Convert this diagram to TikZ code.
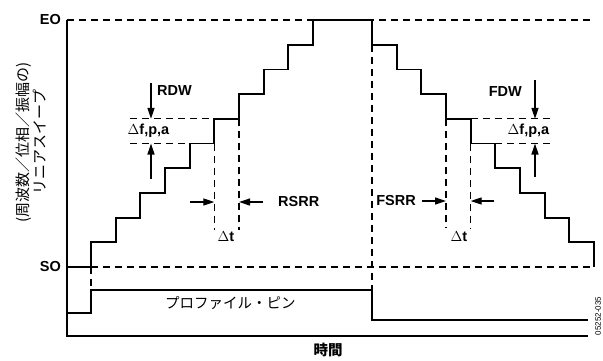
\documentclass[tikz,border=0pt]{standalone}
\usepackage{fontspec}
\setmainfont{Liberation Sans}
\newfontfamily\jp{Noto Sans CJK JP}
\usetikzlibrary{arrows.meta}
\begin{document}
\begin{tikzpicture}[x=1pt,y=-1pt,
  stair/.style={line width=1.8pt, line join=miter},
  dsh/.style={line width=1.3pt, dash pattern=on 7pt off 5pt},
  axisline/.style={line width=2.6pt},
  prof/.style={line width=1.6pt},
  arr/.style={line width=1.3pt, -{Triangle[length=11pt,width=7pt]}},
  lbl/.style={font=\fontsize{14.5}{16}\selectfont\bfseries, inner sep=0pt},
  jlbl/.style={font=\fontsize{14.5}{16}\selectfont\jp, inner sep=0pt}]
\useasboundingbox (0,0) rectangle (603,360);

% axes
\draw[axisline] (67,20) -- (67,336) -- (588,336);
% EO and SO lines
\draw[dsh] (67,20) -- (594,20);
\draw[stair] (67,267) -- (91,267);
\draw[dsh] (91,267) -- (594,267);

% staircase
\draw[stair] (91,267) -- (91,242.3) -- (115.67,242.3) -- (115.67,217.6) -- (140.33,217.6) -- (140.33,192.9) -- (165,192.9) -- (165,168.2) -- (189.67,168.2) -- (189.67,143.5) -- (214.33,143.5) -- (214.33,118.8) -- (239,118.8) -- (239,94.1) -- (263.67,94.1) -- (263.67,69.4) -- (288.33,69.4) -- (288.33,44.7) -- (313,44.7) -- (313,20) -- (372,20) -- (372,44.7) -- (396.67,44.7) -- (396.67,69.4) -- (421.33,69.4) -- (421.33,94.1) -- (446,94.1) -- (446,118.8) -- (470.67,118.8) -- (470.67,143.5) -- (495.33,143.5) -- (495.33,168.2) -- (520,168.2) -- (520,192.9) -- (544.67,192.9) -- (544.67,217.6) -- (569.33,217.6) -- (569.33,242.3) -- (594,242.3) -- (594,267);

% profile pin
\draw[prof] (67,313) -- (91,313) -- (91,290) -- (372,290) -- (372,320) -- (588,320);

% dashed guides
\draw[dsh] (91,267) -- (91,290);
\draw[dsh] (372,44.7) -- (372,290);
\draw[dsh] (214.33,143.5) -- (214.33,230);
\draw[dsh] (239,118.8) -- (239,230);
\draw[dsh] (446,118.8) -- (446,228);
\draw[dsh] (470.67,143.5) -- (470.67,228);
\draw[dsh] (130,118.8) -- (214.33,118.8);
\draw[dsh] (130,143.5) -- (189.67,143.5);
\draw[dsh] (470.67,118.8) -- (554,118.8);
\draw[dsh] (495.33,143.5) -- (554,143.5);

% arrow coordinates
\coordinate (rdwA) at (151,83);
\coordinate (rdwB) at (151,118.8);
\coordinate (rdwC) at (151,179);
\coordinate (rdwD) at (151,143.5);
\coordinate (rsA) at (190,202);
\coordinate (rsB) at (214.33,202);
\coordinate (rsC) at (263,202);
\coordinate (rsD) at (239,202);
\coordinate (fdwA) at (535,80);
\coordinate (fdwB) at (535,118.8);
\coordinate (fdwC) at (535,177);
\coordinate (fdwD) at (535,143.5);
\coordinate (fsA) at (422,201);
\coordinate (fsB) at (446,201);
\coordinate (fsC) at (494,201);
\coordinate (fsD) at (470.67,201);

\draw[arr] (rdwA) -- (rdwB);
\draw[arr] (rdwC) -- (rdwD);
\draw[arr] (rsA) -- (rsB);
\draw[arr] (rsC) -- (rsD);
\draw[arr] (fdwA) -- (fdwB);
\draw[arr] (fdwC) -- (fdwD);
\draw[arr] (fsA) -- (fsB);
\draw[arr] (fsC) -- (fsD);

% labels
\node[lbl, anchor=east] (eo) at (61,20) {EO};
\node[lbl, anchor=east] (so) at (61,267) {SO};
\node[lbl, anchor=west] (rdw) at (157,91) {RDW};
\node[lbl] (dfl) at (148.5,131) {$\Delta$f,p,a};
\node[lbl] (dtl) at (226,237) {$\Delta$t};
\node[lbl, anchor=west] (rsrr) at (278,202) {RSRR};
\node[lbl, anchor=east] (fsrr) at (416,201) {FSRR};
\node[lbl, anchor=east] (fdw) at (522,92) {FDW};
\node[lbl] (dfr) at (528.5,131) {$\Delta$f,p,a};
\node[lbl] (dtr) at (459,237) {$\Delta$t};
\node[jlbl, anchor=west] (pin) at (165,303) {プロファイル・ピン};
\node[jlbl, font=\fontsize{14.5}{16}\selectfont\jp\bfseries] (time) at (328,350) {時間};
\node[rotate=90, align=center, inner sep=0pt, font=\fontsize{15}{17}\selectfont\jp] (ylab) at (30.5,142) {(周波数／位相／振幅の)\\リニアスイープ};
\node[rotate=90, inner sep=0pt, font=\fontsize{8}{9}\selectfont] (code) at (598,316) {05252-035};
\end{tikzpicture}
\end{document}
